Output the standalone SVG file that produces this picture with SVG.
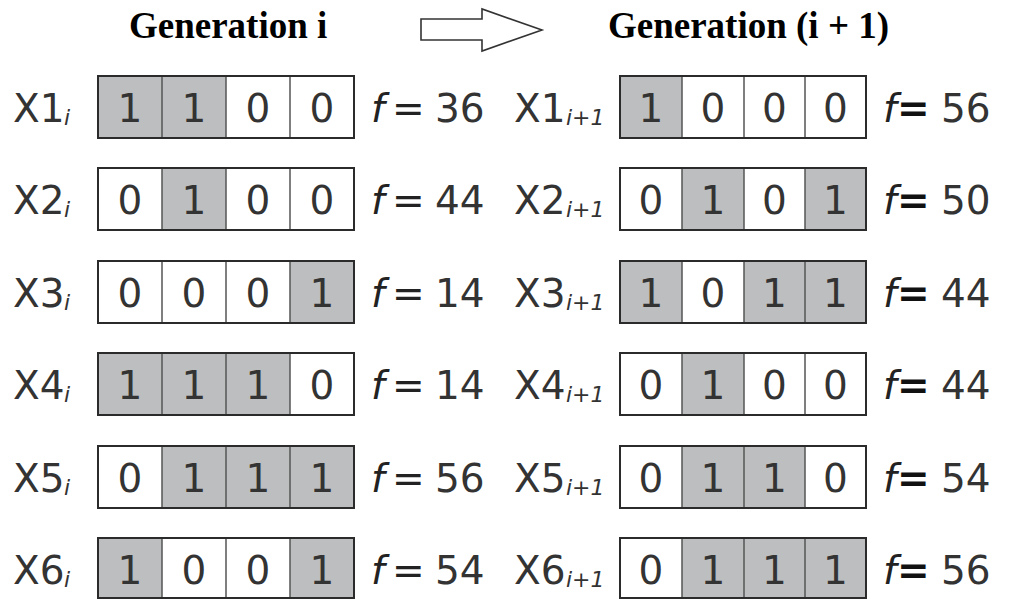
<svg xmlns="http://www.w3.org/2000/svg" width="1023" height="599" viewBox="0 0 1023 599">
<style>
.bg{fill:#fff}
.title{font-family:"Liberation Serif","Times New Roman",serif;font-weight:bold;font-size:37px;fill:#000}
.lbl{font-family:"DejaVu Sans",sans-serif;font-size:39px;fill:#333}
.sub{font-family:"DejaVu Sans",sans-serif;font-style:italic;font-size:22px;fill:#333}
.dig{font-family:"DejaVu Sans",sans-serif;font-size:39px;fill:#333;text-anchor:middle}
.fi{font-family:"DejaVu Sans",sans-serif;font-style:italic;font-size:39px;fill:#222}
.eq{font-family:"DejaVu Sans",sans-serif;font-size:39px;fill:#222}
.eqb{font-family:"DejaVu Sans",sans-serif;font-size:39px;font-weight:bold;fill:#111}
.g{fill:#bdbebf}
.w{fill:#fff}
.box{fill:none;stroke:#2b2b2b;stroke-width:2}
.div{stroke:#555;stroke-width:1.5}
.arrow{fill:#fff;stroke:#333;stroke-width:1.6}
</style>
<rect class="bg" x="0" y="0" width="1023" height="599"/>

<g id="titles">
<text class="title" x="129" y="38">Generation i</text>
<text class="title" x="608" y="38">Generation (i + 1)</text>
</g>
<g id="connectors">
<polygon class="arrow" points="421,19 482,19 482,9 542,30 482,51 482,40 421,40"/>
</g>

<!-- Left column: generation i -->
<g id="L1">
<text class="lbl" x="13" y="122">X1</text><text class="sub" x="64" y="125">i</text>
<rect class="g" x="98" y="76" width="64" height="62"/><rect class="g" x="162" y="76" width="64" height="62"/>
<line class="div" x1="162" y1="76" x2="162" y2="138"/><line class="div" x1="226" y1="76" x2="226" y2="138"/><line class="div" x1="290" y1="76" x2="290" y2="138"/>
<rect class="box" x="98" y="76" width="256" height="62"/>
<text class="dig" x="130" y="122">1</text><text class="dig" x="194" y="122">1</text><text class="dig" x="258" y="122">0</text><text class="dig" x="322" y="122">0</text>
<text class="fi" x="371" y="122">f</text><text class="eq" x="392" y="122">=</text><text class="lbl" x="435" y="122">36</text>
</g>
<g id="L2">
<text class="lbl" x="13" y="214">X2</text><text class="sub" x="64" y="217">i</text>
<rect class="g" x="162" y="168" width="64" height="62"/>
<line class="div" x1="162" y1="168" x2="162" y2="230"/><line class="div" x1="226" y1="168" x2="226" y2="230"/><line class="div" x1="290" y1="168" x2="290" y2="230"/>
<rect class="box" x="98" y="168" width="256" height="62"/>
<text class="dig" x="130" y="214">0</text><text class="dig" x="194" y="214">1</text><text class="dig" x="258" y="214">0</text><text class="dig" x="322" y="214">0</text>
<text class="fi" x="371" y="214">f</text><text class="eq" x="392" y="214">=</text><text class="lbl" x="435" y="214">44</text>
</g>
<g id="L3">
<text class="lbl" x="13" y="307">X3</text><text class="sub" x="64" y="310">i</text>
<rect class="g" x="290" y="261" width="64" height="62"/>
<line class="div" x1="162" y1="261" x2="162" y2="323"/><line class="div" x1="226" y1="261" x2="226" y2="323"/><line class="div" x1="290" y1="261" x2="290" y2="323"/>
<rect class="box" x="98" y="261" width="256" height="62"/>
<text class="dig" x="130" y="307">0</text><text class="dig" x="194" y="307">0</text><text class="dig" x="258" y="307">0</text><text class="dig" x="322" y="307">1</text>
<text class="fi" x="371" y="307">f</text><text class="eq" x="392" y="307">=</text><text class="lbl" x="435" y="307">14</text>
</g>
<g id="L4">
<text class="lbl" x="13" y="399">X4</text><text class="sub" x="64" y="402">i</text>
<rect class="g" x="98" y="353" width="192" height="62"/>
<line class="div" x1="162" y1="353" x2="162" y2="415"/><line class="div" x1="226" y1="353" x2="226" y2="415"/><line class="div" x1="290" y1="353" x2="290" y2="415"/>
<rect class="box" x="98" y="353" width="256" height="62"/>
<text class="dig" x="130" y="399">1</text><text class="dig" x="194" y="399">1</text><text class="dig" x="258" y="399">1</text><text class="dig" x="322" y="399">0</text>
<text class="fi" x="371" y="399">f</text><text class="eq" x="392" y="399">=</text><text class="lbl" x="435" y="399">14</text>
</g>
<g id="L5">
<text class="lbl" x="13" y="492">X5</text><text class="sub" x="64" y="495">i</text>
<rect class="g" x="162" y="446" width="192" height="62"/>
<line class="div" x1="162" y1="446" x2="162" y2="508"/><line class="div" x1="226" y1="446" x2="226" y2="508"/><line class="div" x1="290" y1="446" x2="290" y2="508"/>
<rect class="box" x="98" y="446" width="256" height="62"/>
<text class="dig" x="130" y="492">0</text><text class="dig" x="194" y="492">1</text><text class="dig" x="258" y="492">1</text><text class="dig" x="322" y="492">1</text>
<text class="fi" x="371" y="492">f</text><text class="eq" x="392" y="492">=</text><text class="lbl" x="435" y="492">56</text>
</g>
<g id="L6">
<text class="lbl" x="13" y="584">X6</text><text class="sub" x="64" y="587">i</text>
<rect class="g" x="98" y="538" width="64" height="62"/><rect class="g" x="290" y="538" width="64" height="62"/>
<line class="div" x1="162" y1="538" x2="162" y2="600"/><line class="div" x1="226" y1="538" x2="226" y2="600"/><line class="div" x1="290" y1="538" x2="290" y2="600"/>
<rect class="box" x="98" y="538" width="256" height="60"/>
<text class="dig" x="130" y="584">1</text><text class="dig" x="194" y="584">0</text><text class="dig" x="258" y="584">0</text><text class="dig" x="322" y="584">1</text>
<text class="fi" x="371" y="584">f</text><text class="eq" x="392" y="584">=</text><text class="lbl" x="435" y="584">54</text>
</g>

<!-- Right column: generation i+1 -->
<g id="R1">
<text class="lbl" x="514" y="122">X1</text><text class="sub" x="566" y="125">i+1</text>
<rect class="g" x="620" y="76" width="62" height="62"/>
<line class="div" x1="682" y1="76" x2="682" y2="138"/><line class="div" x1="744" y1="76" x2="744" y2="138"/><line class="div" x1="805" y1="76" x2="805" y2="138"/>
<rect class="box" x="620" y="76" width="246" height="62"/>
<text class="dig" x="651" y="122">1</text><text class="dig" x="713" y="122">0</text><text class="dig" x="774.5" y="122">0</text><text class="dig" x="835.5" y="122">0</text>
<text class="fi" x="883" y="122">f</text><text class="eqb" x="897" y="122">=</text><text class="lbl" x="941" y="122">56</text>
</g>
<g id="R2">
<text class="lbl" x="514" y="214">X2</text><text class="sub" x="566" y="217">i+1</text>
<rect class="g" x="682" y="168" width="62" height="62"/><rect class="g" x="805" y="168" width="61" height="62"/>
<line class="div" x1="682" y1="168" x2="682" y2="230"/><line class="div" x1="744" y1="168" x2="744" y2="230"/><line class="div" x1="805" y1="168" x2="805" y2="230"/>
<rect class="box" x="620" y="168" width="246" height="62"/>
<text class="dig" x="651" y="214">0</text><text class="dig" x="713" y="214">1</text><text class="dig" x="774.5" y="214">0</text><text class="dig" x="835.5" y="214">1</text>
<text class="fi" x="883" y="214">f</text><text class="eqb" x="897" y="214">=</text><text class="lbl" x="941" y="214">50</text>
</g>
<g id="R3">
<text class="lbl" x="514" y="307">X3</text><text class="sub" x="566" y="310">i+1</text>
<rect class="g" x="620" y="261" width="62" height="62"/><rect class="g" x="744" y="261" width="122" height="62"/>
<line class="div" x1="682" y1="261" x2="682" y2="323"/><line class="div" x1="744" y1="261" x2="744" y2="323"/><line class="div" x1="805" y1="261" x2="805" y2="323"/>
<rect class="box" x="620" y="261" width="246" height="62"/>
<text class="dig" x="651" y="307">1</text><text class="dig" x="713" y="307">0</text><text class="dig" x="774.5" y="307">1</text><text class="dig" x="835.5" y="307">1</text>
<text class="fi" x="883" y="307">f</text><text class="eqb" x="897" y="307">=</text><text class="lbl" x="941" y="307">44</text>
</g>
<g id="R4">
<text class="lbl" x="514" y="399">X4</text><text class="sub" x="566" y="402">i+1</text>
<rect class="g" x="682" y="353" width="62" height="62"/>
<line class="div" x1="682" y1="353" x2="682" y2="415"/><line class="div" x1="744" y1="353" x2="744" y2="415"/><line class="div" x1="805" y1="353" x2="805" y2="415"/>
<rect class="box" x="620" y="353" width="246" height="62"/>
<text class="dig" x="651" y="399">0</text><text class="dig" x="713" y="399">1</text><text class="dig" x="774.5" y="399">0</text><text class="dig" x="835.5" y="399">0</text>
<text class="fi" x="883" y="399">f</text><text class="eqb" x="897" y="399">=</text><text class="lbl" x="941" y="399">44</text>
</g>
<g id="R5">
<text class="lbl" x="514" y="492">X5</text><text class="sub" x="566" y="495">i+1</text>
<rect class="g" x="682" y="446" width="123" height="62"/>
<line class="div" x1="682" y1="446" x2="682" y2="508"/><line class="div" x1="744" y1="446" x2="744" y2="508"/><line class="div" x1="805" y1="446" x2="805" y2="508"/>
<rect class="box" x="620" y="446" width="246" height="62"/>
<text class="dig" x="651" y="492">0</text><text class="dig" x="713" y="492">1</text><text class="dig" x="774.5" y="492">1</text><text class="dig" x="835.5" y="492">0</text>
<text class="fi" x="883" y="492">f</text><text class="eqb" x="897" y="492">=</text><text class="lbl" x="941" y="492">54</text>
</g>
<g id="R6">
<text class="lbl" x="514" y="584">X6</text><text class="sub" x="566" y="587">i+1</text>
<rect class="g" x="682" y="538" width="184" height="62"/>
<line class="div" x1="682" y1="538" x2="682" y2="600"/><line class="div" x1="744" y1="538" x2="744" y2="600"/><line class="div" x1="805" y1="538" x2="805" y2="600"/>
<rect class="box" x="620" y="538" width="246" height="60"/>
<text class="dig" x="651" y="584">0</text><text class="dig" x="713" y="584">1</text><text class="dig" x="774.5" y="584">1</text><text class="dig" x="835.5" y="584">1</text>
<text class="fi" x="883" y="584">f</text><text class="eqb" x="897" y="584">=</text><text class="lbl" x="941" y="584">56</text>
</g>
</svg>
